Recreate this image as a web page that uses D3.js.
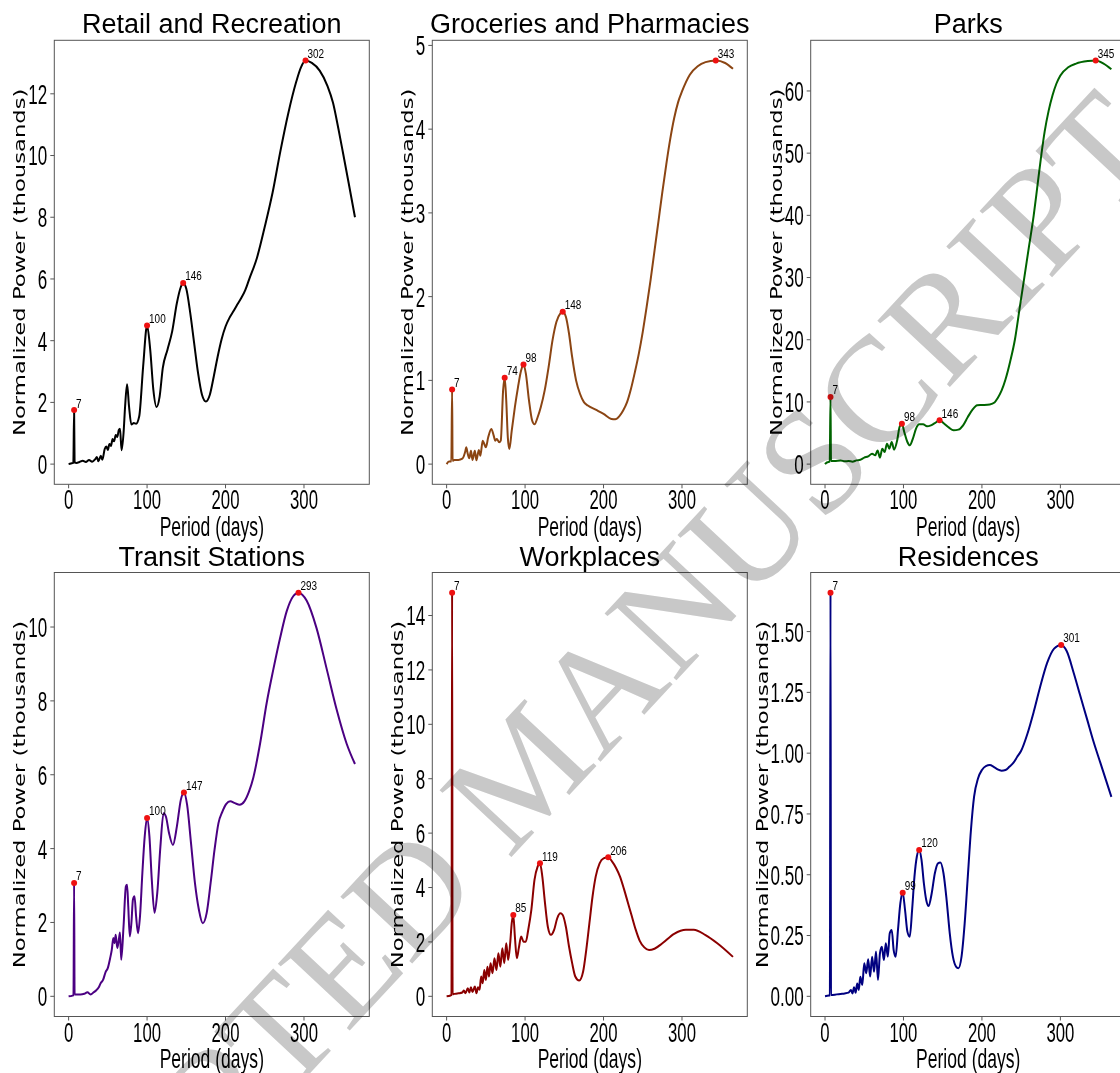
<!DOCTYPE html>
<html>
<head>
<meta charset="utf-8">
<script src="https://cdn.jsdelivr.net/npm/d3@7"></script>
<style>
  body { margin: 0; background: #fff; }
  svg { display: block; }
</style>
</head>
<body>
<svg id="fig" width="1120" height="1073"></svg>
<script>
(function(){
  // Series: [period (days), normalized power (thousands)]
  var retailPower = [[0,0],[3,0.02],[6,0.04],[7,1.75],[7.6,0.05],[10,0.04],[14,0.07],[18,0.11],[22,0.07],[26,0.13],[30,0.08],[34,0.16],[36,0.23],[38,0.09],[41,0.27],[43,0.14],[46,0.49],[48,0.57],[50,0.46],[52,0.65],[54,0.59],[56,0.81],[58,0.74],[60,0.94],[62,0.88],[64,1.11],[65.5,1.15],[67.5,0.45],[70,1.0],[72,1.87],[74.5,2.59],[77,1.87],[80,1.28],[83,1.33],[86,1.31],[90,1.55],[95,3.17],[100,4.49],[104,3.71],[108,2.41],[112,1.85],[116,2.19],[120,3.11],[126,3.71],[132,4.3],[138,5.22],[143,5.74],[146,5.87],[150,5.68],[155,4.9],[160,3.92],[165,2.95],[170,2.25],[175,2.03],[180,2.25],[185,2.84],[190,3.49],[195,4.05],[200,4.46],[205,4.74],[210,4.95],[215,5.17],[220,5.38],[225,5.63],[230,5.98],[240,6.68],[250,7.69],[260,8.8],[270,10.15],[280,11.37],[290,12.38],[296,12.85],[302,13.08],[310,13.0],[320,12.75],[330,12.25],[337,11.71],[344,10.85],[350,10.05],[357,9.1],[365,8.0]];
  var groceriesPower = [[0,0],[3,0.03],[6,0.03],[7,0.89],[7.6,0.04],[10,0.05],[15,0.05],[20,0.065],[24,0.16],[25,0.2],[27,0.12],[29,0.07],[31,0.16],[33,0.05],[36,0.16],[38,0.045],[41,0.17],[43,0.1],[46,0.28],[48,0.24],[50,0.2],[53,0.32],[57,0.42],[60,0.34],[62,0.28],[64,0.3],[67,0.26],[69,0.28],[72,0.88],[74,1.03],[76,0.76],[78,0.32],[80,0.18],[83,0.4],[87,0.68],[91,0.92],[95,1.12],[98,1.19],[101,1.08],[105,0.76],[109,0.52],[112,0.475],[116,0.56],[120,0.68],[125,0.88],[130,1.16],[135,1.48],[140,1.7],[145,1.8],[148,1.82],[152,1.76],[156,1.56],[160,1.28],[165,1.0],[170,0.84],[175,0.74],[180,0.7],[190,0.65],[200,0.6],[210,0.54],[215,0.535],[220,0.57],[225,0.64],[230,0.74],[235,0.9],[240,1.1],[245,1.32],[250,1.58],[255,1.88],[260,2.2],[265,2.55],[270,2.9],[275,3.25],[280,3.58],[285,3.88],[290,4.13],[295,4.32],[300,4.45],[310,4.65],[320,4.75],[330,4.8],[343,4.82],[355,4.79],[365,4.72]];
  var parksPower = [[0,0],[3,0.3],[6,0.4],[7,10.8],[7.6,0.5],[12,0.5],[20,0.6],[25,0.45],[30,0.5],[35,0.4],[40,0.6],[45,0.7],[50,1.04],[55,1.25],[60,1.68],[64,1.41],[67,2.2],[70,1.04],[73,2.49],[76,1.95],[79,3.29],[82,2.49],[85,3.56],[88,2.33],[92,3.83],[95,5.97],[98,6.5],[101,5.17],[105,3.56],[108,3.02],[112,4.1],[116,5.7],[120,6.4],[125,6.4],[130,6.08],[135,6.24],[140,6.6],[146,7.04],[152,6.5],[158,5.86],[164,5.43],[170,5.54],[176,6.24],[182,7.58],[188,8.76],[194,9.45],[200,9.5],[210,9.6],[216,9.9],[220,10.6],[225,11.8],[230,13.6],[236,16.5],[242,20],[248,25],[254,30],[260,35],[266,40],[271,45],[276,50],[280,53.5],[285,56.8],[290,59.3],[295,61.2],[300,62.5],[310,63.8],[320,64.4],[335,64.8],[345,64.9],[355,64.4],[365,63.5]];
  var transitPower = [[0,0],[5,0.02],[6.2,0.03],[7,3.07],[7.6,0.05],[15,0.05],[20,0.07],[24,0.11],[28,0.05],[32,0.11],[35,0.16],[38,0.23],[41,0.36],[44,0.45],[47,0.65],[50,0.77],[53,1.04],[55,1.26],[57,1.58],[58.5,1.44],[60,1.67],[62,1.31],[64,1.53],[65.5,1.73],[67,0.99],[70,1.89],[73,2.98],[74.5,3.02],[76,2.44],[78,1.62],[80,1.98],[82,2.62],[84,2.71],[86,2.17],[88.5,1.71],[91,2.17],[94,3.34],[97,4.33],[100,4.83],[103,4.33],[106,3.16],[109.5,2.26],[113,2.8],[117,4.06],[121,4.96],[124,4.87],[128,4.42],[133,4.1],[138,4.6],[143,5.32],[147,5.52],[151,5.19],[156,4.15],[161,3.07],[166,2.35],[171,1.98],[176,2.26],[181,3.07],[186,3.97],[191,4.69],[196,5.0],[201,5.21],[206,5.28],[212,5.23],[218,5.19],[224,5.28],[230,5.55],[235.4,5.92],[244,6.84],[252.5,7.95],[261,8.86],[269.4,9.69],[278,10.43],[286.5,10.84],[293,10.93],[303.5,10.71],[316,9.97],[329,8.86],[341.7,7.76],[354.4,6.84],[365,6.29]];
  var workplacesPower = [[0,0],[5,0.03],[6.2,0.05],[7,14.84],[7.6,0.08],[10,0.09],[15,0.11],[20,0.14],[22,0.21],[24,0.11],[27,0.3],[29,0.14],[31,0.33],[33,0.16],[36,0.36],[38,0.11],[40,0.33],[42,0.24],[44,0.73],[46,0.48],[48,0.97],[50,0.6],[52,1.09],[54,0.73],[56,1.22],[58.5,0.85],[61,1.4],[63.5,0.97],[66,1.58],[68.5,1.09],[71,1.77],[73.5,1.22],[76,1.95],[78.5,1.34],[81,1.95],[83,2.69],[85,2.99],[87,2.2],[89.5,1.4],[92,1.77],[95,2.2],[98,2.01],[101,2.01],[104,2.44],[108,3.18],[112,4.28],[116,4.77],[119,4.89],[122,4.4],[125,3.54],[129,2.56],[133,2.26],[137,2.44],[141,2.87],[145,3.05],[148,2.99],[152,2.56],[156,1.83],[160,1.22],[164,0.73],[169,0.58],[174,0.91],[178,1.71],[182,2.69],[186,3.67],[190,4.4],[195,4.89],[200,5.07],[206,5.11],[211,4.95],[216,4.72],[221,4.4],[226,3.95],[231,3.45],[236,2.95],[241,2.45],[246,2.05],[252,1.8],[258,1.7],[265,1.75],[275,1.95],[290,2.3],[305,2.45],[315,2.45],[330,2.25],[345,1.95],[365,1.45]];
  var residencesPower = [[0,0],[5,0.003],[6.2,0.004],[7,1.66],[7.6,0.005],[15,0.008],[20,0.01],[25,0.012],[30,0.015],[33,0.026],[35,0.012],[37,0.037],[39,0.015],[41,0.053],[43,0.026],[45,0.08],[47.5,0.047],[50,0.136],[52.5,0.095],[55,0.152],[57.5,0.081],[60,0.163],[62.5,0.101],[65,0.184],[67.5,0.067],[70,0.177],[72.5,0.204],[75,0.149],[77.5,0.218],[80,0.163],[82.5,0.259],[85,0.273],[87.5,0.19],[90,0.163],[93,0.273],[96,0.382],[99,0.426],[102,0.355],[105,0.266],[108,0.245],[111,0.355],[114,0.492],[117,0.574],[120,0.602],[123,0.561],[126,0.465],[129,0.396],[132,0.371],[136,0.424],[140,0.506],[144,0.547],[147,0.55],[151,0.506],[155,0.396],[159,0.259],[163,0.163],[167,0.122],[170,0.115],[174,0.163],[178,0.3],[182,0.492],[186,0.684],[190,0.821],[195,0.896],[200,0.931],[205,0.947],[210,0.951],[215,0.944],[220,0.933],[225,0.928],[230,0.931],[235,0.944],[240,0.96],[245,0.985],[250,1.01],[258,1.08],[266,1.17],[274,1.27],[283,1.37],[292,1.43],[301,1.445],[308,1.42],[317,1.33],[325,1.24],[334,1.14],[342,1.05],[351,0.96],[358,0.89],[365,0.82]];

  // Labelled peaks (periods)
  var retailPeaks = [7, 100, 146, 302];
  var groceriesPeaks = [7, 74, 98, 148, 343];
  var parksPeaks = [7, 98, 146, 345];
  var transitPeaks = [7, 100, 147, 293];
  var workplacesPeaks = [7, 85, 119, 206];
  var residencesPeaks = [7, 99, 120, 301];

  // Axis ticks
  var xTicks = [0, 100, 200, 300];
  var retailTicks = [0, 2, 4, 6, 8, 10, 12];
  var groceriesTicks = [0, 1, 2, 3, 4, 5];
  var parksTicks = [0, 10, 20, 30, 40, 50, 60];
  var transitTicks = [0, 2, 4, 6, 8, 10];
  var workplacesTicks = [0, 2, 4, 6, 8, 10, 12, 14];
  var residencesTicks = [0, 0.25, 0.5, 0.75, 1.0, 1.25, 1.5];

  var titles = ['Retail and Recreation', 'Groceries and Pharmacies', 'Parks',
                'Transit Stations', 'Workplaces', 'Residences'];
  var colors = ['#000000', '#8b4513', '#006400', '#4b0082', '#8b0000', '#000080'];

  var panels = [
    {data: retailPower, peaks: retailPeaks, ticks: retailTicks, fmt: d3.format('d')},
    {data: groceriesPower, peaks: groceriesPeaks, ticks: groceriesTicks, fmt: d3.format('d')},
    {data: parksPower, peaks: parksPeaks, ticks: parksTicks, fmt: d3.format('d')},
    {data: transitPower, peaks: transitPeaks, ticks: transitTicks, fmt: d3.format('d')},
    {data: workplacesPower, peaks: workplacesPeaks, ticks: workplacesTicks, fmt: d3.format('d')},
    {data: residencesPower, peaks: residencesPeaks, ticks: residencesTicks, fmt: d3.format('.2f')}
  ];

  // Layout
  var colLeft = [54.3, 432.3, 810.7], rowTop = [40.3, 572.5];
  var axW = 315, axH = 444;
  var sans = 'Liberation Sans, Arial, sans-serif';
  var tickSx = 0.62;

  var svg = d3.select('#fig');

  // Helpers
  function squeezed(g, txt, x, y, sx, size, anchor, family) {
    return g.append('text')
      .attr('transform', 'translate(' + x + ',' + y + ') scale(' + sx + ',1)')
      .attr('text-anchor', anchor)
      .style('font-family', family || sans)
      .style('font-size', size + 'px')
      .attr('fill', '#000')
      .text(txt);
  }

  // Construction
  panels.forEach(function(p, i) {
    var left = colLeft[i % 3], top = rowTop[Math.floor(i / 3)];
    var g = svg.append('g').attr('class', 'panel');

    var ext = d3.extent(p.data, function(d) { return d[1]; });
    var pad = (ext[1] - ext[0]) * 0.05;
    var x = d3.scaleLinear().domain([-18.25, 383.25]).range([left, left + axW]);
    var y = d3.scaleLinear().domain([ext[0] - pad, ext[1] + pad]).range([top + axH, top]);

    // frame
    g.append('rect')
      .attr('x', left).attr('y', top).attr('width', axW).attr('height', axH)
      .attr('fill', 'none').attr('stroke', '#555').attr('stroke-width', 1);

    // x ticks
    xTicks.forEach(function(t) {
      g.append('line')
        .attr('x1', x(t)).attr('x2', x(t))
        .attr('y1', top + axH).attr('y2', top + axH + 4)
        .attr('stroke', '#555');
      squeezed(g, t, x(t), top + axH + 25, tickSx, 27, 'middle');
    });

    // y ticks
    var maxW = 0;
    p.ticks.forEach(function(t) {
      g.append('line')
        .attr('x1', left - 4).attr('x2', left)
        .attr('y1', y(t)).attr('y2', y(t))
        .attr('stroke', '#555');
      var lab = squeezed(g, p.fmt(t), left - 7, y(t), tickSx, 27.5, 'end')
        .attr('dy', '0.36em');
      maxW = Math.max(maxW, lab.node().getBBox().width * tickSx);
    });

    // labels
    squeezed(g, titles[i], left + axW / 2, top - 7, 1, 27, 'middle');
    squeezed(g, 'Period (days)', left + axW / 2, top + axH + 51.5, 0.65, 27, 'middle');
    g.append('text')
      .attr('transform', 'translate(' + (left - 7 - maxW - 3) + ',' + (top + axH / 2) + ') scale(0.69,1) rotate(-90)')
      .attr('text-anchor', 'middle')
      .style('font-family', 'DejaVu Sans, sans-serif')
      .style('font-size', '22.7px')
      .text('Normalized Power (thousands)');

    // curve
    var line = d3.line()
      .x(function(d) { return x(d[0]); })
      .y(function(d) { return y(d[1]); })
      .curve(d3.curveMonotoneX);

    g.append('path')
      .datum(p.data)
      .attr('d', line)
      .attr('fill', 'none')
      .attr('stroke', colors[i])
      .attr('stroke-width', 2)
      .attr('stroke-linejoin', 'round');

    // peaks
    var peakPts = p.peaks.map(function(k) {
      return p.data.find(function(d) { return d[0] === k; });
    });

    g.selectAll('circle.peak')
      .data(peakPts)
      .enter()
      .append('circle')
      .attr('class', 'peak')
      .attr('cx', function(d) { return x(d[0]); })
      .attr('cy', function(d) { return y(d[1]); })
      .attr('r', 3)
      .attr('fill', '#ee1111');

    peakPts.forEach(function(d) {
      squeezed(g, d[0], x(d[0]) + 2, y(d[1]) - 2.5, 0.83, 12, 'start');
    });
  });

  // watermark
  svg.append('text')
    .attr('transform', 'translate(525,770) rotate(-47)')
    .attr('text-anchor', 'middle')
    .attr('dy', '0.33em')
    .style('font-family', 'Liberation Serif, Times New Roman, serif')
    .style('font-size', '150px')
    .style('mix-blend-mode', 'multiply')
    .attr('fill', '#c8c8c8')
    .text('ACCEPTED MANUSCRIPT');
})();
</script>
</body>
</html>
